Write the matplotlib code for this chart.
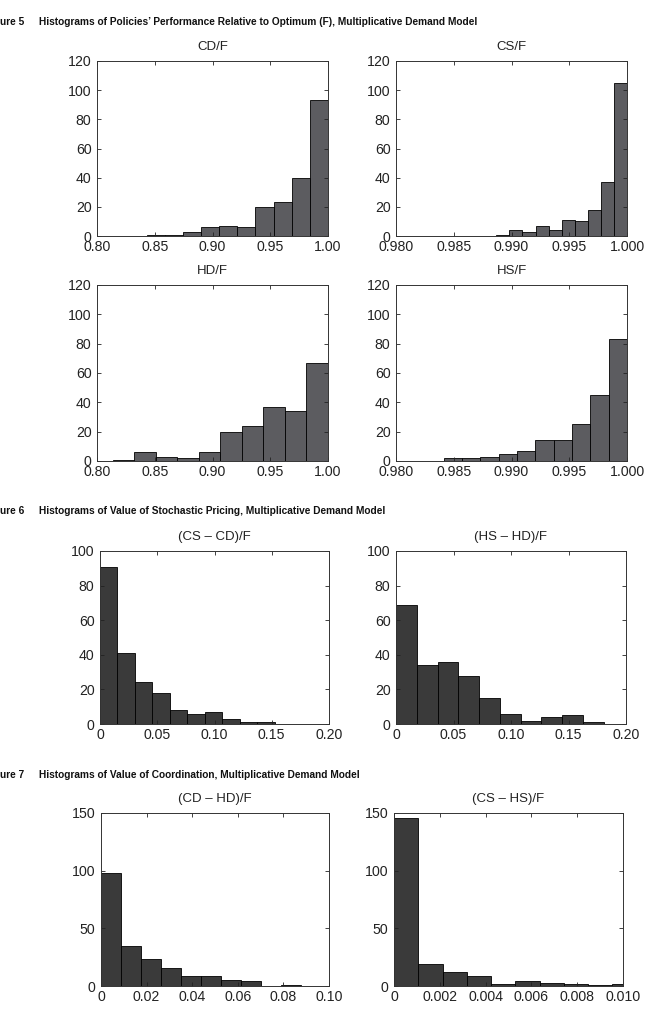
import numpy as np
import matplotlib
matplotlib.use('Agg')
import matplotlib.pyplot as plt

# Counts per bin (200 samples each)
cd_f = [1, 1, 3, 6, 7, 6, 20, 23, 40, 93]
cs_f = [1, 4, 3, 7, 4, 11, 10, 18, 37, 105]
hd_f = [1, 6, 3, 2, 6, 20, 24, 37, 34, 67]
hs_f = [2, 2, 3, 5, 7, 14, 14, 25, 45, 83]
cs_cd = [91, 41, 24, 18, 8, 6, 7, 3, 1, 1]
hs_hd = [69, 34, 36, 28, 15, 6, 2, 4, 5, 1]
cd_hd = [98, 35, 23, 16, 9, 9, 5, 4, 0, 1]
cs_hs = [146, 19, 12, 9, 2, 4, 3, 2, 1, 2]

# bin range (min, max) of each histogram
cd_f_range = (0.8430, 1.0)
cs_f_range = (0.98869, 1.0)
hd_f_range = (0.8135, 1.0)
hs_f_range = (0.98413, 1.0)
cs_cd_range = (0.0, 0.1525)
hs_hd_range = (0.0, 0.1806)
cd_hd_range = (0.0, 0.0877)
cs_hs_range = (0.0, 0.0106)

ticks_a = [0.80, 0.85, 0.90, 0.95, 1.00]
labels_a = ['0.80', '0.85', '0.90', '0.95', '1.00']
ticks_b = [0.980, 0.985, 0.990, 0.995, 1.000]
labels_b = ['0.980', '0.985', '0.990', '0.995', '1.000']
ticks_c = [0, 0.05, 0.10, 0.15, 0.20]
labels_c = ['0', '0.05', '0.10', '0.15', '0.20']
ticks_d = [0, 0.02, 0.04, 0.06, 0.08, 0.10]
labels_d = ['0', '0.02', '0.04', '0.06', '0.08', '0.10']
ticks_e = [0, 0.002, 0.004, 0.006, 0.008, 0.010]
labels_e = ['0', '0.002', '0.004', '0.006', '0.008', '0.010']

W, H = 654, 1014
fig = plt.figure(figsize=(W / 100, H / 100), dpi=100)
plt.rcParams['font.family'] = ['Liberation Sans', 'DejaVu Sans']

GRAY = '#5c5c60'
DARK = '#3a3a3a'


def add_panel(left, top, right, bottom, title, counts, rng, xlim, xt, xl, ylim, yt, color):
    ax = fig.add_axes([left / W, 1 - bottom / H, (right - left) / W, (bottom - top) / H])
    edges = np.linspace(rng[0], rng[1], len(counts) + 1)
    ax.bar(edges[:-1], counts, width=np.diff(edges), align='edge',
           color=color, edgecolor='black', linewidth=0.6)
    ax.set_xlim(*xlim)
    ax.set_ylim(*ylim)
    ax.set_xticks(xt)
    ax.set_xticklabels(xl)
    ax.set_yticks(yt)
    ax.tick_params(direction='in', length=3, width=0.6, labelsize=10.2,
                   top=True, right=True, colors='#222222')
    ax.tick_params(axis='x', pad=3)
    ax.tick_params(axis='y', pad=4)
    for s in ax.spines.values():
        s.set_linewidth(0.7)
        s.set_color('#333333')
    ax.set_title(title, fontsize=9.5, pad=8, color='#222222')
    return ax


y120 = [0, 20, 40, 60, 80, 100, 120]
y100 = [0, 20, 40, 60, 80, 100]
y150 = [0, 50, 100, 150]

add_panel(97, 61, 328, 236, 'CD/F', cd_f, cd_f_range, (0.80, 1.00), ticks_a, labels_a, (0, 120), y120, GRAY)
add_panel(396, 61, 627, 236, 'CS/F', cs_f, cs_f_range, (0.980, 1.000), ticks_b, labels_b, (0, 120), y120, GRAY)
add_panel(97, 285, 328, 461, 'HD/F', hd_f, hd_f_range, (0.80, 1.00), ticks_a, labels_a, (0, 120), y120, GRAY)
add_panel(396, 285, 627, 461, 'HS/F', hs_f, hs_f_range, (0.980, 1.000), ticks_b, labels_b, (0, 120), y120, GRAY)
add_panel(100, 551, 329, 724, '(CS – CD)/F', cs_cd, cs_cd_range, (0, 0.20), ticks_c, labels_c, (0, 100), y100, DARK)
add_panel(396, 551, 626, 724, '(HS – HD)/F', hs_hd, hs_hd_range, (0, 0.20), ticks_c, labels_c, (0, 100), y100, DARK)
add_panel(101, 813, 329, 986, '(CD – HD)/F', cd_hd, cd_hd_range, (0, 0.10), ticks_d, labels_d, (0, 150), y150, DARK)
add_panel(394, 813, 623, 986, '(CS – HS)/F', cs_hs, cs_hs_range, (0, 0.010), ticks_e, labels_e, (0, 150), y150, DARK)

# figure captions (the left edge of "Figure" is cut off in the source scan)
hdr = dict(fontsize=7.3, fontweight='bold', va='center', color='#111111')
for y, num, txt in [(22, 'ure 5', 'Histograms of Policies’ Performance Relative to Optimum (F), Multiplicative Demand Model'),
                    (511, 'ure 6', 'Histograms of Value of Stochastic Pricing, Multiplicative Demand Model'),
                    (775, 'ure 7', 'Histograms of Value of Coordination, Multiplicative Demand Model')]:
    fig.text(0 / W, 1 - y / H, num, **hdr)
    fig.text(39 / W, 1 - y / H, txt, **hdr)

fig.savefig('out.png', dpi=100)
